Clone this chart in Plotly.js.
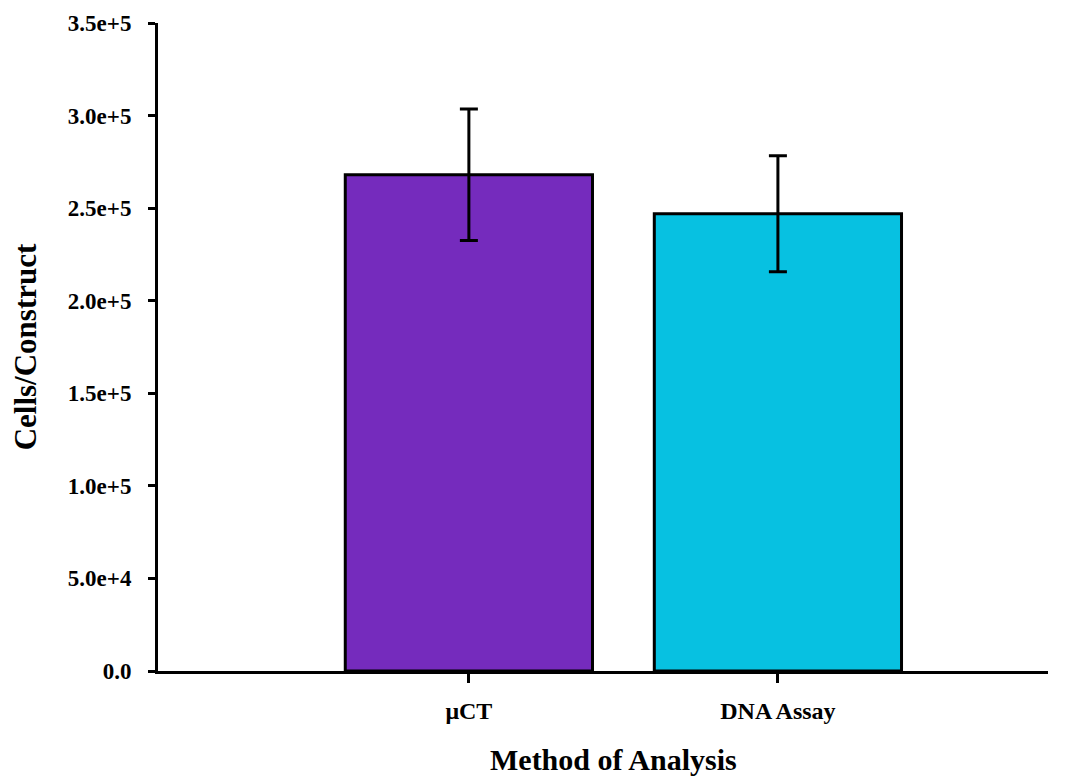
<!DOCTYPE html>
<html>
<head>
<meta charset="utf-8">
<script src="https://cdn.plot.ly/plotly-3.0.1.min.js"></script>
<style>html,body{margin:0;padding:0;background:#fff;}#chart{width:1077px;height:777px;}</style>
</head>
<body>
<div id="chart"></div>
<script>
const categories = ["μCT", "DNA Assay"];
const cellCounts = [268000, 247000];
const cellErrors = [35500, 31300];
const barColors = ["#752BBD", "#07C1E1"];
const yTickValues = [0, 50000, 100000, 150000, 200000, 250000, 300000, 350000];
const yTickLabels = ["0.0", "5.0e+4", "1.0e+5", "1.5e+5", "2.0e+5", "2.5e+5", "3.0e+5", "3.5e+5"];
const xTitle = "Method of Analysis";
const yTitle = "Cells/Construct";

const font = "Liberation Serif, Times New Roman, serif";

const trace = {
  type: "bar",
  x: categories,
  y: cellCounts,
  width: 0.8,
  marker: {color: barColors, line: {color: "#000", width: 3}},
  error_y: {type: "data", array: cellErrors, visible: true, color: "#000", thickness: 3, width: 9},
  hoverinfo: "none"
};

const layout = {
  width: 1077, height: 777,
  margin: {l: 158, r: 29, t: 23, b: 106, pad: 0},
  paper_bgcolor: "#fff", plot_bgcolor: "#fff",
  showlegend: false,
  font: {family: font, color: "#000"},
  xaxis: {
    type: "category",
    range: [-1.006, 1.874],
    showline: true, linecolor: "#000", linewidth: 3,
    ticks: "outside", ticklen: 9, tickwidth: 3, tickcolor: "#000",
    ticklabelstandoff: 7,
    showgrid: false, zeroline: false,
    tickfont: {family: font, size: 24, weight: "bold"}
  },
  yaxis: {
    range: [0, 350000],
    tickmode: "array", tickvals: yTickValues, ticktext: yTickLabels,
    showline: true, linecolor: "#000", linewidth: 3,
    ticks: "outside", ticklen: 7, tickwidth: 3, tickcolor: "#000",
    ticklabelstandoff: 12,
    showgrid: false, zeroline: false,
    tickfont: {family: font, size: 23, weight: "bold"},
    title: {text: "<b>" + yTitle + "</b>", font: {family: font, size: 31}, standoff: 22}
  },
  annotations: [{
    text: "<b>" + xTitle + "</b>",
    xref: "paper", yref: "paper",
    x: (613 - 158) / 890, y: -88 / 648,
    xanchor: "center", yanchor: "middle",
    showarrow: false,
    font: {family: font, size: 30, color: "#000"}
  }]
};

Plotly.newPlot("chart", [trace], layout, {displayModeBar: false, staticPlot: true});
</script>
</body>
</html>
